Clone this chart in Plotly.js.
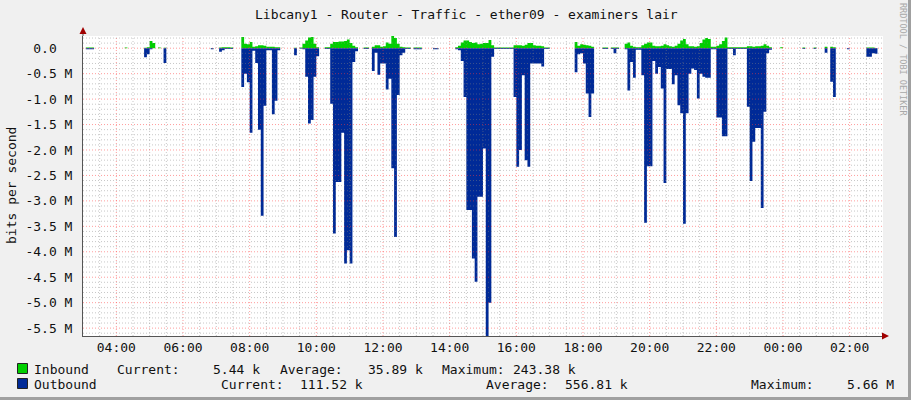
<!DOCTYPE html>
<html><head><meta charset="utf-8">
<script src="https://cdn.plot.ly/plotly-3.0.1.min.js"></script>
<style>html,body{margin:0;padding:0;background:#f0f0f0;}#chart{width:911px;height:400px;}</style>
</head><body><div id="chart"></div>
<script>
// ---- data (values in M bits per second, 5-minute samples from 03:00, one row per hour) ----
const startTime = '2024-01-01T03:00:00';
const stepMinutes = 5;
const inbound = [
0,0.015,0.015,0.015,0,0,0,0,0,0,0,0,
0,0,0,0.015,0,0,0,0,0,0,0.01,0.02,
0.14,0.10,0,0.015,0,0.01,0,0,0,0,0,0,
0,0,0,0,0,0,0,0,0,0,0.005,0,
0,0.015,0.02,0.02,0.02,0.015,0,0,0,0.22,0.09,0.08,
0.12,0.03,0.04,0.06,0.06,0.05,0.03,0.03,0.03,0.02,0.02,0,
0,0,0,0,0.01,0,0.015,0.09,0.15,0.21,0.22,0.09,
0.02,0,0,0.02,0.02,0.09,0.12,0.12,0.13,0.13,0.14,0.17,
0.10,0.05,0.02,0,0,0.015,0.015,0,0.03,0.06,0.06,0.03,
0.04,0.11,0.09,0.243,0.20,0.09,0.03,0.02,0.015,0.015,0,0.015,
0.015,0.015,0,0,0,0,0.005,0.005,0,0,0,0,
0,0,0.02,0.05,0.11,0.15,0.15,0.12,0.10,0.11,0.08,0.09,
0.10,0.10,0.16,0.06,0.015,0.015,0.015,0.015,0.015,0.015,0.015,0.06,
0.06,0.06,0.05,0.07,0.10,0.10,0.06,0.05,0.05,0.04,0.015,0.015,
0,0,0,0,0,0,0,0,0,0.12,0.05,0.08,
0.07,0.06,0.05,0.03,0,0,0,0.015,0.015,0,0.015,0.015,
0.015,0,0,0.09,0.11,0.05,0.03,0.02,0.02,0.06,0.09,0.11,
0.11,0.05,0.04,0.04,0.05,0.08,0.06,0.04,0.03,0.05,0.09,0.15,
0.18,0.08,0.04,0.04,0.03,0.04,0.10,0.17,0.20,0.18,0.03,0.03,
0.05,0.08,0.14,0.21,0.02,0.02,0.02,0.02,0.02,0.02,0.02,0.04,
0.04,0.03,0.04,0.04,0.05,0.08,0.05,0.02,0,0,0,0.02,
0,0,0,0,0,0,0,0.015,0,0,0,0.015,
0,0,0,0.03,0,0.03,0.02,0,0,0,0,0,
0,0,0,0,0,0,0.015,0.015,0.015,0.005,0,0
];
const outbound = [
0,0.02,0.02,0.02,0,0,0,0,0,0,0,0,
0,0,0,0,0,0,0,0,0,0,0.18,0.12,
0.02,0,0,0,0,0.29,0,0,0,0,0,0,
0,0,0,0,0,0,0,0,0,0,0.02,0,
0,0.07,0.04,0.015,0.015,0.015,0,0,0,0.76,0.50,0.67,
1.66,0.05,0.29,1.60,3.29,1.13,0.04,0.04,1.30,1.03,0.04,0,
0,0,0,0,0.14,0,0.01,0.02,0.56,1.48,1.41,0.56,
0.16,0,0,0.015,0.015,1.09,3.64,2.63,2.63,1.66,4.23,3.97,
4.23,0.27,0.06,0,0,0.015,0.015,0,0.45,0.09,0.52,0.30,
0.30,0.81,0.60,2.36,3.71,0.92,0.14,0.09,0.015,0.015,0,0.02,
0.02,0.02,0,0,0,0,0.02,0.02,0,0,0,0,
0,0,0.02,0.04,0.25,0.96,3.18,3.18,4.13,4.59,2.92,2.92,
1.97,5.66,5.00,0.17,0.015,0.015,0.015,0.015,0.015,0.015,0.015,0.96,
2.33,2.00,0.53,2.20,2.33,0.30,0.30,0.30,0.30,0.36,0.015,0.015,
0,0,0,0,0,0,0,0,0,0.47,0.12,0.10,
0.30,0.89,1.35,0.89,0,0,0,0.015,0.015,0,0.015,0.10,
0.015,0,0,0.02,0.83,0.27,0.58,0.03,0.03,0.53,3.43,2.32,
2.32,0.25,0.50,0.37,0.79,2.65,0.41,0.41,0.71,0.53,1.12,1.28,
3.45,1.28,0.50,0.40,0.43,0.99,0.50,0.56,0.58,0.58,0.02,0.02,
1.36,1.36,1.73,1.73,0.015,0.015,0.14,0.015,0.015,0.015,0.015,1.15,
2.61,1.84,1.57,1.57,3.14,1.25,0.10,0.03,0,0,0,0,
0,0,0,0,0,0,0,0.015,0,0,0,0.015,
0,0,0,0.09,0,0.66,0.96,0,0,0,0,0.02,
0,0,0,0,0,0,0.17,0.17,0.10,0.11,0,0
];
const yTickVals = [0,-0.5,-1,-1.5,-2,-2.5,-3,-3.5,-4,-4.5,-5,-5.5];
const yTickText = ['0.0\u00a0\u00a0','-0.5 M','-1.0 M','-1.5 M','-2.0 M','-2.5 M','-3.0 M','-3.5 M','-4.0 M','-4.5 M','-5.0 M','-5.5 M'];
const xTickStart = '2024-01-01 04:00';
const titleText = 'Libcany1 - Router - Traffic - ether09 - examiners lair';
const seriesNames = ['Inbound','Outbound'];
const inStats = ['5.44 k','35.89 k','243.38 k'];
const outStats = ['111.52 k','556.81 k','5.66 M'];
const statLabels = ['Current:','Average:','Maximum:'];

// ---- build ----
const W=911,H=400,L=83,R=28,T=36,B=64;
const pw=W-L-R, ph=H-T-B;
const px = x => (x-L)/pw;
const py = y => (H-B-y)/ph;
function timeAt(i){const d=new Date(Date.parse(startTime+'Z')+i*stepMinutes*60000);return d.toISOString().slice(0,19).replace('T',' ');}
const n = inbound.length;
const xs=[], yin=[], yout=[];
for(let i=0;i<=n;i++){xs.push(timeAt(i)); yin.push(i<n?inbound[i]:0); yout.push(i<n?-outbound[i]:0);}

const IN_C='#00CF00', OUT_C='#002A97';
const traces=[
 {type:'scatter',x:xs,y:yin,mode:'lines',line:{shape:'hv',width:0,color:IN_C},fill:'tozeroy',fillcolor:IN_C,hoverinfo:'skip',showlegend:false},
 {type:'scatter',x:xs,y:yout,mode:'lines',line:{shape:'hv',width:0,color:OUT_C},fill:'tozeroy',fillcolor:OUT_C,hoverinfo:'skip',showlegend:false}
];

const shapes=[];
const minorC='rgba(130,130,130,0.45)', majorC='rgba(255,60,60,0.5)';
const total=n*stepMinutes;
for(let m=30;m<total;m+=30){
  const major=((m-60)%120===0);
  shapes.push({type:'line',layer:'above',xref:'x',yref:'paper',x0:timeAt(m/stepMinutes),x1:timeAt(m/stepMinutes),y0:0,y1:1,
    line:{color:major?majorC:minorC,width:1,dash:'1px,2px'}});
}
for(let k=-56;k<=2;k++){
  const v=k/10, major=(k%5===0);
  shapes.push({type:'line',layer:'above',xref:'paper',yref:'y',x0:0,x1:1,y0:v,y1:v,
    line:{color:major?majorC:minorC,width:1,dash:'1px,2px'}});
}
// axes extensions + arrows
shapes.push({type:'line',layer:'above',xref:'paper',yref:'paper',x0:0,x1:0,y0:1,y1:py(31),line:{color:'#555',width:1}});
shapes.push({type:'line',layer:'above',xref:'paper',yref:'paper',x0:1,x1:px(884),y0:0,y1:0,line:{color:'#555',width:1}});
shapes.push({type:'path',layer:'above',xref:'paper',yref:'paper',
  path:`M ${px(83)} ${py(27)} L ${px(79.5)} ${py(34)} L ${px(86.5)} ${py(34)} Z`,fillcolor:'#a00000',line:{width:0}});
shapes.push({type:'path',layer:'above',xref:'paper',yref:'paper',
  path:`M ${px(889)} ${py(336)} L ${px(882)} ${py(332.5)} L ${px(882)} ${py(339.5)} Z`,fillcolor:'#a00000',line:{width:0}});
// legend boxes
shapes.push({type:'rect',xref:'paper',yref:'paper',x0:px(17.5),x1:px(27.5),y0:py(373.5),y1:py(363.5),fillcolor:IN_C,line:{color:'#222',width:1}});
shapes.push({type:'rect',xref:'paper',yref:'paper',x0:px(17.5),x1:px(27.5),y0:py(388.5),y1:py(378.5),fillcolor:OUT_C,line:{color:'#222',width:1}});
// frame
shapes.push({type:'line',xref:'paper',yref:'paper',x0:px(909.5),x1:px(909.5),y0:py(0),y1:py(400),line:{color:'#a0a0a0',width:3}});
shapes.push({type:'line',xref:'paper',yref:'paper',x0:px(0),x1:px(911),y0:py(398.5),y1:py(398.5),line:{color:'#a0a0a0',width:3}});

const FONT='DejaVu Sans Mono';
const ann=[];
function txt(t,x,y,opt){ann.push(Object.assign({text:t,xref:'paper',yref:'paper',x:px(x),y:py(y),xanchor:'left',yanchor:'middle',showarrow:false,borderpad:0,
  font:{family:FONT,size:13,color:'#111'}},opt||{}));}
txt(titleText,466,15,{xanchor:'center'});
txt('bits per second',11,186,{xanchor:'center',textangle:-90});
txt('RRDTOOL / TOBI OETIKER',903,60,{xanchor:'center',textangle:90,font:{family:FONT,size:8.5,color:'#a8a8a8'}});
const row1=[[seriesNames[0],33],[statLabels[0],116],[inStats[0],212],[statLabels[1],279],[inStats[1],367],[statLabels[2],441],[inStats[2],512]];
const row2=[[seriesNames[1],33],[statLabels[0],220],[outStats[0],299],[statLabels[1],485],[outStats[1],564],[statLabels[2],750],[outStats[2],846]];
row1.forEach(([t,x])=>txt(t,x,369));
row2.forEach(([t,x])=>txt(t,x,384));

const layout={
  width:W,height:H,margin:{l:L,r:R,t:T,b:B},
  paper_bgcolor:'#f0f0f0',plot_bgcolor:'#ffffff',showlegend:false,
  xaxis:{type:'date',range:[timeAt(0),timeAt(n)],tickmode:'linear',tick0:xTickStart,dtick:7200000,tickformat:'%H:%M',
    showgrid:false,zeroline:false,showline:true,linecolor:'#555',linewidth:1,ticks:'',layer:'above traces',
    tickfont:{family:FONT,size:13,color:'#111'},ticklabelstandoff:-1,fixedrange:true},
  yaxis:{range:[-5.655,0.24],tickmode:'array',tickvals:yTickVals,ticktext:yTickText,showgrid:false,zeroline:false,
    showline:true,linecolor:'#555',linewidth:1,ticks:'',layer:'above traces',
    tickfont:{family:FONT,size:13,color:'#111'},ticklabelstandoff:7,fixedrange:true},
  shapes:shapes,annotations:ann
};
Plotly.newPlot('chart',traces,layout,{staticPlot:true,displayModeBar:false});
</script></body></html>
